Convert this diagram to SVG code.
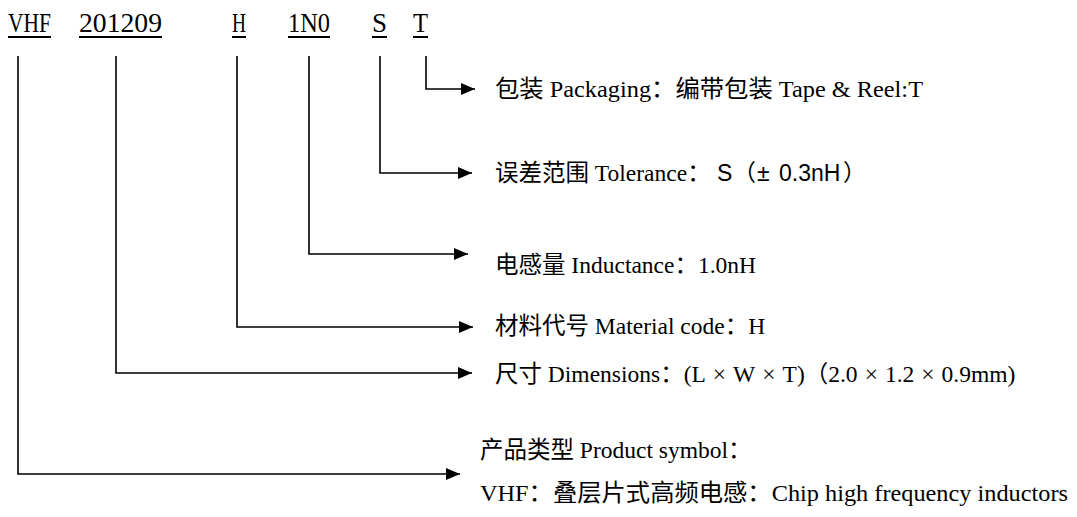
<svg xmlns="http://www.w3.org/2000/svg" width="1077" height="517" viewBox="0 0 1077 517">
<style>
.code{font-family:"Liberation Serif","Noto Sans CJK SC",serif;font-size:27px;fill:#000}
.lbl{font-family:"Liberation Serif","Noto Sans CJK SC",serif;font-size:23.5px;fill:#000}
.sans{font-family:"Liberation Sans","Noto Sans CJK SC",sans-serif;font-size:23px}
.ul{fill:#000}
.con{fill:none;stroke:#000;stroke-width:1.6}
</style>
<defs>
<marker id="arr" markerUnits="userSpaceOnUse" markerWidth="14" markerHeight="12" refX="14" refY="6" orient="auto" viewBox="0 0 14 12">
<path d="M0,0 L14,6 L0,12 z" fill="#000"/>
</marker>
</defs>
<g id="code-VHF"><text class="code" x="8" y="32" textLength="43" lengthAdjust="spacingAndGlyphs">VHF</text><rect class="ul" x="8" y="36" width="43" height="2"/></g>
<g id="code-201209"><text class="code" x="79" y="32" textLength="83" lengthAdjust="spacingAndGlyphs">201209</text><rect class="ul" x="79" y="36" width="83" height="2"/></g>
<g id="code-H"><text class="code" x="232" y="32" textLength="14" lengthAdjust="spacingAndGlyphs">H</text><rect class="ul" x="232" y="36" width="14" height="2"/></g>
<g id="code-1N0"><text class="code" x="288" y="32" textLength="42" lengthAdjust="spacingAndGlyphs">1N0</text><rect class="ul" x="288" y="36" width="42" height="2"/></g>
<g id="code-S"><text class="code" x="372" y="32" textLength="15" lengthAdjust="spacingAndGlyphs">S</text><rect class="ul" x="372" y="36" width="15" height="2"/></g>
<g id="code-T"><text class="code" x="413" y="32" textLength="15" lengthAdjust="spacingAndGlyphs">T</text><rect class="ul" x="413" y="36" width="15" height="2"/></g>
<g id="connectors">
<path class="con" marker-end="url(#arr)" d="M426,56 V89 H475"/>
<path class="con" marker-end="url(#arr)" d="M380,56 V173 H472"/>
<path class="con" marker-end="url(#arr)" d="M309,56 V254 H468"/>
<path class="con" marker-end="url(#arr)" d="M237,56 V327 H473"/>
<path class="con" marker-end="url(#arr)" d="M116,56 V373 H472"/>
<path class="con" marker-end="url(#arr)" d="M18,56 V474 H460"/>
</g>
<g id="label-packaging"><text class="lbl" x="495" y="97" textLength="428" lengthAdjust="spacingAndGlyphs">包装 Packaging：编带包装 Tape &amp; Reel:T</text></g>
<g id="label-tolerance"><text class="lbl" x="495" y="181">误差范围 Tolerance：<tspan class="sans" x="717">S</tspan><tspan class="sans" x="733">（</tspan><tspan class="sans" x="757" font-size="30">±</tspan><tspan class="sans" x="779">0.3nH</tspan><tspan class="sans" x="843">）</tspan></text></g>
<g id="label-inductance"><text class="lbl" x="495" y="273">电感量 Inductance：1.0nH</text></g>
<g id="label-material"><text class="lbl" x="495" y="334">材料代号 Material code：H</text></g>
<g id="label-dimensions"><text class="lbl" x="495" y="382">尺寸 Dimensions：(L<tspan dx="7">×</tspan><tspan dx="7">W</tspan><tspan dx="7">×</tspan><tspan dx="7">T)（2.0</tspan><tspan dx="7">×</tspan><tspan dx="7">1.2</tspan><tspan dx="7">×</tspan><tspan dx="7">0.9mm)</tspan></text></g>
<g id="label-product"><text class="lbl" x="480" y="458">产品类型 Product symbol：</text><text class="lbl" x="480" y="501" textLength="588" lengthAdjust="spacingAndGlyphs">VHF：叠层片式高频电感：Chip high frequency inductors</text></g>
</svg>
